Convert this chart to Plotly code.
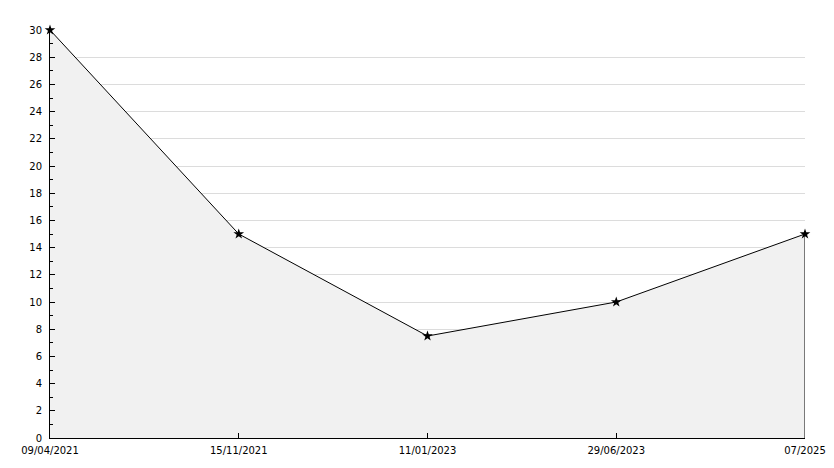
import plotly.graph_objects as go

categories = ["09/04/2021", "15/11/2021", "11/01/2023", "29/06/2023", "07/2025"]
values = [30, 15, 7.5, 10, 15]
y_ticks = list(range(0, 31, 2))

fig = go.Figure()
fig.add_trace(go.Scatter(
    x=list(range(len(categories))), y=values,
    mode="lines+markers",
    fill="tozeroy", fillcolor="#f1f1f1",
    line=dict(color="black", width=1),
    marker=dict(symbol="star", size=8, color="black"),
    cliponaxis=False,
    hoverinfo="skip",
))
# closing edge of the area at the last point
fig.add_shape(type="line", xref="x", yref="y",
              x0=len(categories) - 1, x1=len(categories) - 1, y0=0, y1=values[-1],
              line=dict(color="black", width=1))

# page body has an 8px margin, so the figure is sized/offset to compensate
fig.update_layout(
    width=826, height=460,
    margin=dict(l=42, r=29, t=22, b=30),
    paper_bgcolor="white", plot_bgcolor="white",
    showlegend=False,
    font=dict(family="DejaVu Sans", size=10, color="black"),
)
fig.update_xaxes(
    range=[0, len(categories) - 1],
    tickmode="array", tickvals=list(range(len(categories))), ticktext=categories,
    showgrid=False, zeroline=False, automargin=False,
    showline=True, linecolor="black", linewidth=1,
    ticks="inside", ticklen=5, tickcolor="black",
    ticklabelstandoff=3,
)
fig.update_yaxes(
    range=[0, 30],
    tickmode="array", tickvals=y_ticks,
    showgrid=True, gridcolor="#dcdcdc", gridwidth=1,
    zeroline=False, automargin=False,
    showline=True, linecolor="black", linewidth=1,
    ticks="inside", ticklen=5, tickcolor="black",
    ticklabelstandoff=5,
    minor=dict(dtick=1, ticks="inside", ticklen=3, tickcolor="black", showgrid=False),
)
fig.write_html("out.html")
